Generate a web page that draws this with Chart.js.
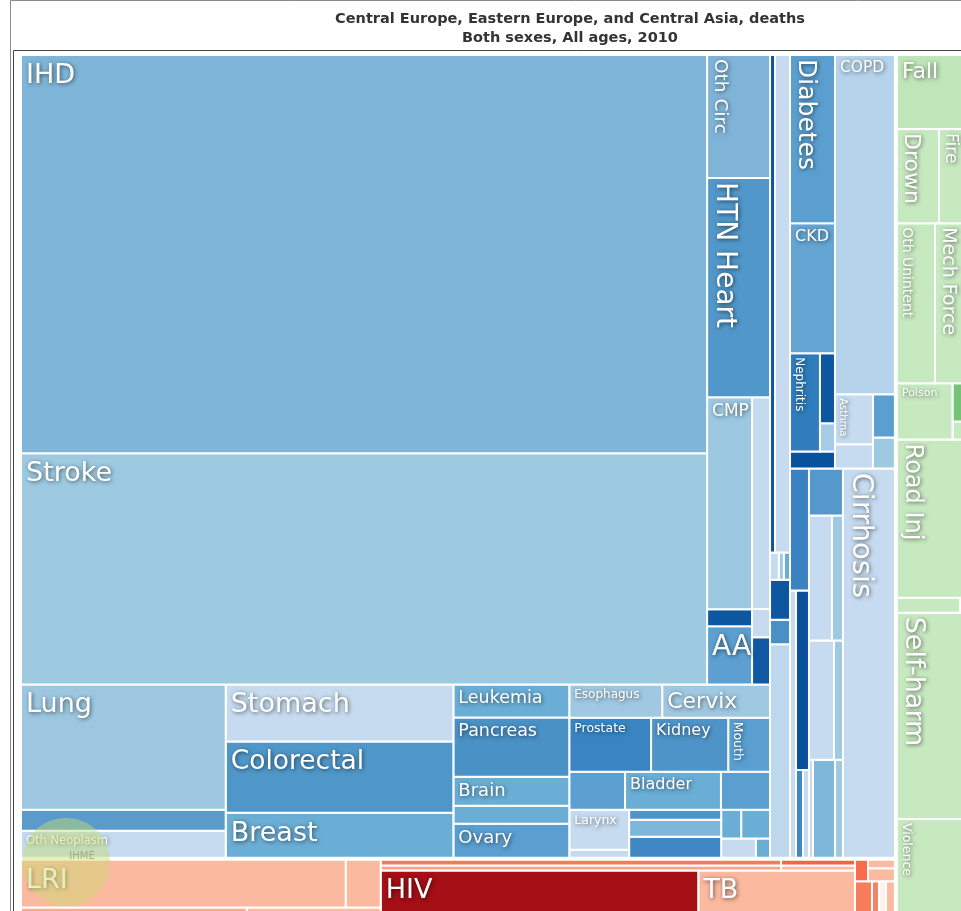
<!DOCTYPE html>
<html>
<head>
<meta charset="utf-8">
<script src="https://cdn.jsdelivr.net/npm/chart.js@4.4.1/dist/chart.umd.min.js"></script>
<style>
  html, body { margin: 0; padding: 0; overflow: hidden; background: #fff; }
  canvas { display: block; }
</style>
</head>
<body>
<canvas id="tree" width="1140" height="930"></canvas>
<script>
// Deaths (thousands), both sexes, all ages, 2010

// Cardiovascular
const cvdCauses = ['IHD', 'Stroke', 'Oth Circ', 'HTN Heart', 'CMP', 'RHD', 'AA', 'A Fib', 'Endocarditis', 'PAD'];
const cvdDeaths = [1608, 933.5, 45.6, 81.2, 56.1, 4.5, 15.4, 22.4, 3.0, 5.0];

// Neoplasms
const neoCauses = ['Lung', 'Liver Ca', 'Oth Neoplasm', 'Stomach', 'Colorectal', 'Breast',
  'Leukemia', 'Pancreas', 'Brain', 'Lymphoma', 'Ovary', 'Esophagus', 'Cervix',
  'Prostate', 'Kidney', 'Mouth', 'Uterus', 'Bladder', 'Melanoma', 'Larynx', 'Thyroid',
  'Myeloma', 'Nasopharynx', 'Oth Pharynx', 'Gallbladder', 'Testicular', 'Hodgkin', 'Mesothelioma'];
const neoDeaths = [150.7, 25.3, 32.6, 76.4, 95.2, 60.4,
  22.5, 40.3, 19.8, 12.3, 23.2, 18.1, 21.0,
  26.0, 24.5, 13.3, 12.5, 21.5, 11.0, 14.1, 2.8,
  5.4, 9.2, 11.4, 3.4, 4.9, 3.9, 1.6];

// Neurological and mental
const neuroCauses = ['Parkinson', 'Alzheimer', 'Epilepsy', 'MS', 'Oth Neuro', 'Alcohol Use', 'Drug Use', 'Oth Mental'];
const neuroDeaths = [14.6, 43.9, 1.4, 0.8, 1.0, 4.7, 2.9, 25.1];

// Diabetes / urogenital and chronic respiratory
const diabCauses = ['Diabetes', 'CKD', 'Nephritis', 'Urinary', 'Oth Kidney', 'Oth Urogen'];
const diabDeaths = [44.5, 34.4, 17.3, 6.2, 2.5, 4.5];
const respCauses = ['COPD', 'Asthma', 'Pneumoconiosis', 'ILD', 'Oth Resp'];
const respDeaths = [119.6, 11.2, 5.4, 5.6, 4.0];

// Digestive, cirrhosis and other NCD
const digCauses = ['Oth NCD', 'Hemoglobin', 'Endocrine', 'Oral', 'Sense', 'Pancreatitis', 'Ulcer',
  'Gastritis', 'Gallbladder Dis', 'Ileus', 'Appendicitis', 'Hernia', 'IBD', 'Cirrhosis'];
const digDeaths = [13.6, 9.4, 13.7, 3.6, 3.1, 9.4, 16.9, 8.1, 17.5, 6.3, 2.3, 12.7, 4.6, 119.0];

// Communicable, maternal, neonatal, nutritional
const commCauses = ['LRI', 'Meningitis', 'Diarrhea', 'Hepatitis', 'Sepsis', 'Encephalitis', 'URI', 'Otitis',
  'HIV', 'TB', 'Oth Infect', 'Malaria', 'STD', 'Maternal', 'Neonatal', 'Iodine', 'Nutrition'];
const commDeaths = [93.7, 10.1, 25.3, 15.0, 14.2, 11.8, 2.6, 2.2,
  106.6, 52.6, 1.7, 1.4, 2.1, 4.6, 1.9, 1.9, 2.4];

// Injuries
const injCauses = ['Fall', 'Drown', 'Fire', 'Oth Unintent', 'Mech Force', 'Poison', 'Animal', 'Disaster',
  'Road Inj', 'Oth Transport', 'War', 'Self-harm', 'Violence'];
const injDeaths = [37.0, 23.8, 23.2, 36.7, 43.3, 18.8, 6.3, 3.0, 79.0, 5.7, 1.8, 103.0, 53.5];

const titleLines = ['Central Europe, Eastern Europe, and Central Asia, deaths', 'Both sexes, All ages, 2010'];

// nesting of the treemap: 'x' splits across, 'y' splits down, capitals are padded cause groups
const layoutTree = ['x',
  ['y',
    ['X',
      ['y',
        ['x', ['y', 'IHD', 'Stroke'],
              ['y', 'Oth Circ', 'HTN Heart', ['x', ['y', 'CMP', 'RHD', 'AA'], ['y', 'A Fib', 'Endocarditis', 'PAD']]]],
        ['x', ['y', 'Lung', 'Liver Ca', 'Oth Neoplasm'],
              ['y', 'Stomach', 'Colorectal', 'Breast'],
              ['y', 'Leukemia', 'Pancreas', 'Brain', 'Lymphoma', 'Ovary'],
              ['y', ['x', 'Esophagus', 'Cervix'], ['x', 'Prostate', 'Kidney', 'Mouth'], ['x', 'Uterus', 'Bladder', 'Melanoma'],
                    ['x', ['y', 'Larynx', 'Thyroid'], ['y', 'Myeloma', 'Nasopharynx', 'Oth Pharynx'],
                          ['y', ['x', 'Gallbladder', 'Testicular'], ['x', 'Hodgkin', 'Mesothelioma']]]]]],
      ['y', ['x', 'Parkinson', 'Alzheimer'], ['x', 'Epilepsy', 'MS', 'Oth Neuro'], 'Alcohol Use', 'Drug Use', 'Oth Mental'],
      ['y', ['x', ['y', 'Diabetes', 'CKD', ['x', 'Nephritis', ['y', 'Urinary', 'Oth Kidney']], 'Oth Urogen'],
                  ['y', 'COPD', ['x', ['y', 'Asthma', 'Pneumoconiosis'], ['y', 'ILD', 'Oth Resp']]]],
            ['x', ['y', 'Oth NCD', ['x', 'Hemoglobin', ['y', 'Endocrine', ['x', 'Oral', 'Sense']]]],
                  ['y', 'Pancreatitis', ['x', 'Ulcer', 'Gastritis'], ['x', 'Gallbladder Dis', 'Ileus'], ['x', 'Appendicitis', 'Hernia', 'IBD']],
                  'Cirrhosis']]],
    ['X', ['y', ['x', 'LRI', 'Meningitis'], ['x', 'Diarrhea', 'Hepatitis']],
          ['y', ['x', ['y', 'Sepsis', 'Encephalitis'], ['y', 'URI', 'Otitis']], ['x', 'HIV', 'TB']],
          ['y', ['x', 'Oth Infect', ['y', 'Malaria', 'STD']], ['x', 'Maternal', 'Neonatal', 'Iodine', 'Nutrition']]]],
  ['Y', 'Fall', ['x', 'Drown', 'Fire'], ['x', 'Oth Unintent', 'Mech Force'], ['x', 'Poison', ['y', 'Animal', 'Disaster']],
        'Road Inj', ['x', 'Oth Transport', 'War'], 'Self-harm', 'Violence']];

// cell colours
const cellColor = {
  'IHD': '#7fb5d8', 'Stroke': '#9ecae1', 'Oth Circ': '#7fb4d8', 'HTN Heart': '#5197c9', 'CMP': '#9dc8e2',
  'RHD': '#0d57a1', 'AA': '#5c9fd0', 'A Fib': '#c4daee', 'Endocarditis': '#c6dbef', 'PAD': '#1059a2',
  'Lung': '#9dc7e0', 'Liver Ca': '#5a9bcc', 'Oth Neoplasm': '#c6dbef', 'Stomach': '#c6dbef',
  'Colorectal': '#5097c9', 'Breast': '#6aaed6', 'Leukemia': '#6aaed6', 'Pancreas': '#4a91c6',
  'Brain': '#6aaed6', 'Lymphoma': '#6aaed6', 'Ovary': '#5a9fd0', 'Esophagus': '#a0c8e2', 'Cervix': '#9fc8e2',
  'Prostate': '#3a85c1', 'Kidney': '#4e94c8', 'Mouth': '#5a9fd0', 'Uterus': '#5a9fd0', 'Bladder': '#6aaed6',
  'Melanoma': '#5a9fd0', 'Larynx': '#c6dbef', 'Thyroid': '#c6dbef', 'Myeloma': '#4f95c8',
  'Nasopharynx': '#7db8db', 'Oth Pharynx': '#3f88c4', 'Gallbladder': '#6aaed6', 'Testicular': '#6aaed6',
  'Hodgkin': '#c6dbef', 'Mesothelioma': '#6aaed6',
  'Parkinson': '#0d57a1', 'Alzheimer': '#c6dbef', 'Epilepsy': '#c6dbef', 'MS': '#9ecae1', 'Oth Neuro': '#6aaed6',
  'Alcohol Use': '#0d57a1', 'Drug Use': '#4a90c5', 'Oth Mental': '#bdd7ec',
  'Diabetes': '#5b9fd0', 'CKD': '#64a5d4', 'Nephritis': '#2f7dbc', 'Urinary': '#0d57a1', 'Oth Kidney': '#a6cbe5',
  'Oth Urogen': '#08519c', 'COPD': '#b5d3ea', 'Asthma': '#c6dbef', 'Pneumoconiosis': '#c6dbef',
  'ILD': '#5a9fd0', 'Oth Resp': '#9ecae1',
  'Oth NCD': '#3a82c2', 'Hemoglobin': '#c6dbef', 'Endocrine': '#0b509a', 'Oral': '#3f88c4', 'Sense': '#c6dbef',
  'Pancreatitis': '#5599cc', 'Ulcer': '#c6dbef', 'Gastritis': '#9ecae1', 'Gallbladder Dis': '#c6dbef',
  'Ileus': '#9ecae1', 'Appendicitis': '#c6dbef', 'Hernia': '#7db8db', 'IBD': '#9ecae1', 'Cirrhosis': '#c6dbef',
  'LRI': '#fbb9a0', 'Meningitis': '#fbb9a0', 'Diarrhea': '#f9ab8e', 'Hepatitis': '#fcbba1',
  'Sepsis': '#f07c5e', 'Encephalitis': '#f5a58b', 'URI': '#ef6548', 'Otitis': '#fcbba1',
  'HIV': '#a50f15', 'TB': '#fbb9a0', 'Oth Infect': '#fb6a4a', 'Malaria': '#fcbba1', 'STD': '#fcbba1',
  'Maternal': '#f67c5a', 'Neonatal': '#f08566', 'Iodine': '#fff1ec', 'Nutrition': '#fcbba1',
  'Fall': '#c0e5b8', 'Drown': '#c7e9c0', 'Fire': '#c7e9c0', 'Oth Unintent': '#c7e9c0', 'Mech Force': '#c7e9c0',
  'Poison': '#c7e9c0', 'Animal': '#74c476', 'Disaster': '#c7e9c0', 'Road Inj': '#c7e9c0',
  'Oth Transport': '#c7e9c0', 'War': '#c7e9c0', 'Self-harm': '#c7e9c0', 'Violence': '#c7e9c0'
};

// label font size, and whether the label runs down the cell
const labelStyle = {
  'IHD': [27], 'Stroke': [27], 'Oth Circ': [18.5, true], 'HTN Heart': [28, true], 'CMP': [17], 'AA': [28],
  'Lung': [27], 'Stomach': [27], 'Colorectal': [26.5], 'Breast': [27], 'Oth Neoplasm': [11.5],
  'Leukemia': [17.5], 'Pancreas': [17.5], 'Brain': [18], 'Ovary': [18], 'Esophagus': [12], 'Cervix': [22],
  'Prostate': [12.5], 'Kidney': [16], 'Mouth': [12.5, true], 'Bladder': [16], 'Larynx': [12.5],
  'Diabetes': [25, true], 'CKD': [16], 'Nephritis': [12, true], 'COPD': [15.5], 'Asthma': [10, true],
  'Cirrhosis': [29, true], 'LRI': [27], 'HIV': [27], 'TB': [27],
  'Fall': [22], 'Drown': [22, true], 'Fire': [17, true], 'Oth Unintent': [14, true], 'Mech Force': [19, true],
  'Poison': [11], 'Road Inj': [24, true], 'Self-harm': [27, true], 'Violence': [12.5, true]
};

// lookup of values by cause
const deaths = {};
[[cvdCauses, cvdDeaths], [neoCauses, neoDeaths], [neuroCauses, neuroDeaths], [diabCauses, diabDeaths],
 [respCauses, respDeaths], [digCauses, digDeaths], [commCauses, commDeaths], [injCauses, injDeaths]]
  .forEach(([names, vals]) => names.forEach((n, i) => { deaths[n] = vals[i]; }));

function sumOf(node) {
  if (typeof node === 'string') return deaths[node] || 0;
  return node.slice(1).reduce((s, k) => s + sumOf(k), 0);
}

// slice-and-dice layout in value space (width x height of the whole map)
function layout(node, x0, y0, x1, y1, out) {
  if (typeof node === 'string') {
    out.push({ name: node, x0, y0, x1, y1 });
    return;
  }
  let dir = node[0];
  if (dir === 'X' || dir === 'Y') { // cause group gets a little extra gap
    x0 += 1; y0 += 1; x1 -= 1; y1 -= 1;
    dir = dir.toLowerCase();
  }
  const kids = node.slice(1);
  const total = kids.reduce((s, k) => s + sumOf(k), 0);
  let pos = dir === 'x' ? x0 : y0;
  kids.forEach((k) => {
    const span = ((dir === 'x' ? x1 - x0 : y1 - y0) * sumOf(k)) / total;
    if (dir === 'x') layout(k, pos, y0, pos + span, y1, out);
    else layout(k, x0, pos, x1, pos + span, out);
    pos += span;
  });
}

const MAP_W = 961;
const MAP_H = 873;
const cells = [];
layout(layoutTree, 0, 0, MAP_W, MAP_H, cells);

// each cell is a closed outline filled as a shape
const datasets = cells.map((c) => ({
  label: c.name,
  data: [
    { x: c.x0, y: c.y0 }, { x: c.x1, y: c.y0 }, { x: c.x1, y: c.y1 },
    { x: c.x0, y: c.y1 }, { x: c.x0, y: c.y0 }
  ],
  backgroundColor: cellColor[c.name] || '#c6dbef',
  borderColor: '#ffffff',
  borderWidth: 2,
  borderJoinStyle: 'miter',
  fill: 'shape',
  pointRadius: 0,
  tension: 0
}));

// frame lines round the figure
const framePlugin = {
  id: 'frame',
  beforeDraw(chart) {
    const ctx = chart.ctx;
    ctx.save();
    ctx.lineWidth = 1;
    ctx.strokeStyle = '#8a8a8a';
    ctx.beginPath();
    ctx.moveTo(10.5, 930);
    ctx.lineTo(10.5, 0.5);
    ctx.lineTo(1140, 0.5);
    ctx.stroke();
    ctx.strokeStyle = '#444';
    ctx.beginPath();
    ctx.moveTo(13.5, 930);
    ctx.lineTo(13.5, 50.5);
    ctx.lineTo(1140, 50.5);
    ctx.stroke();
    ctx.restore();
  }
};

// cause names inside the cells
const labelPlugin = {
  id: 'cellLabels',
  afterDatasetsDraw(chart) {
    const ctx = chart.ctx;
    const xs = chart.scales.x;
    const ys = chart.scales.y;
    const area = chart.chartArea;
    ctx.save();
    ctx.beginPath();
    ctx.rect(area.left, area.top, area.right - area.left, area.bottom - area.top);
    ctx.clip();
    ctx.fillStyle = '#ffffff';
    ctx.shadowColor = 'rgba(0,0,0,0.6)';
    ctx.shadowBlur = 4;
    ctx.shadowOffsetX = 1;
    ctx.shadowOffsetY = 1;
    cells.forEach((c) => {
      const st = labelStyle[c.name];
      if (!st) return;
      const size = st[0];
      const left = xs.getPixelForValue(c.x0);
      const top = ys.getPixelForValue(c.y0);
      ctx.font = `${size}px "DejaVu Sans"`;
      if (st[1]) {
        ctx.save();
        ctx.translate(left + 3 + size * 0.24, top + 4);
        ctx.rotate(Math.PI / 2);
        ctx.textBaseline = 'alphabetic';
        ctx.fillText(c.name, 0, 0);
        ctx.restore();
      } else {
        ctx.textBaseline = 'top';
        ctx.fillText(c.name, left + 5, top + 2 + size * 0.2);
      }
    });
    ctx.restore();
  }
};

// faint IHME watermark in the lower left
const watermarkPlugin = {
  id: 'watermark',
  afterDraw(chart) {
    const ctx = chart.ctx;
    ctx.save();
    ctx.fillStyle = 'rgba(200, 222, 110, 0.45)';
    ctx.beginPath();
    ctx.arc(66, 862, 44, 0, Math.PI * 2);
    ctx.fill();
    ctx.fillStyle = 'rgba(150, 160, 120, 0.8)';
    ctx.font = '10px "DejaVu Sans"';
    ctx.textAlign = 'center';
    ctx.textBaseline = 'middle';
    ctx.fillText('IHME', 82, 856);
    ctx.restore();
  }
};

const canvas = document.getElementById('tree');
new Chart(canvas.getContext('2d'), {
  type: 'line',
  data: { datasets },
  options: {
    responsive: false,
    animation: false,
    events: [],
    layout: { padding: { left: 20, right: 20, top: 0, bottom: 3 } },
    scales: {
      x: { type: 'linear', min: 0, max: 1100, display: false },
      y: { type: 'linear', min: 0, max: MAP_H, reverse: true, display: false }
    },
    plugins: {
      legend: { display: false },
      tooltip: { enabled: false },
      title: {
        display: true,
        text: titleLines,
        color: '#333',
        font: { family: 'DejaVu Sans', size: 14.5, weight: 'bold', lineHeight: '19px' },
        padding: { top: 10, bottom: 6 }
      }
    }
  },
  plugins: [framePlugin, labelPlugin, watermarkPlugin]
});
</script>
</body>
</html>
